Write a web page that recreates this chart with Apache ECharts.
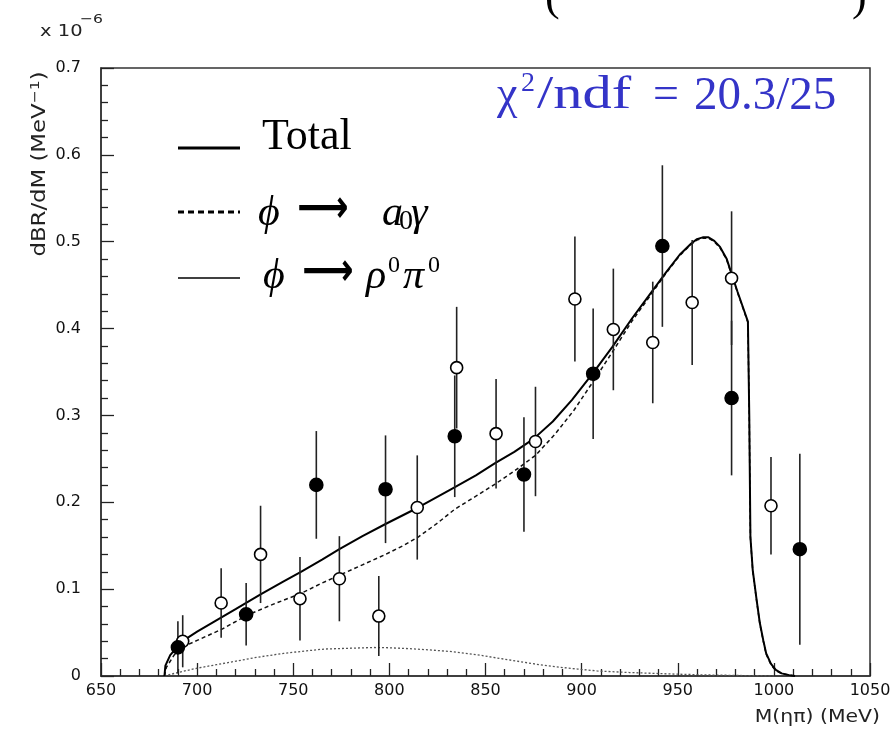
<!DOCTYPE html>
<html>
<head>
<meta charset="utf-8">
<script src="https://cdn.jsdelivr.net/npm/echarts@6/dist/echarts.min.js"></script>
<style>
  html, body { margin: 0; padding: 0; background: #fff; }
  #chart { width: 895px; height: 734px; }
</style>
</head>
<body>
<div id="chart"></div>
<script>
// Axis ticks
const xTicks = [650, 700, 750, 800, 850, 900, 950, 1000, 1050];
const yTicks = [0, 0.1, 0.2, 0.3, 0.4, 0.5, 0.6, 0.7];

// Data points: [M(eta pi) MeV, dBR/dM (1e-6/MeV), error]
const filledPoints = [
  [690, 0.033, 0.030],
  [725.5, 0.071, 0.036],
  [762, 0.220, 0.062],
  [798, 0.215, 0.062],
  [834, 0.276, 0.070],
  [870, 0.232, 0.066],
  [906, 0.348, 0.075],
  [942, 0.495, 0.093],
  [978, 0.320, 0.089],
  [1013.5, 0.146, 0.110]
];
const openPoints = [
  [692.5, 0.040, 0.030],
  [712.5, 0.084, 0.040],
  [733, 0.140, 0.056],
  [753.5, 0.089, 0.048],
  [774, 0.112, 0.049],
  [794.5, 0.069, 0.046],
  [814.5, 0.194, 0.060],
  [835, 0.355, 0.070],
  [855.5, 0.279, 0.063],
  [876, 0.270, 0.063],
  [896.5, 0.434, 0.072],
  [916.5, 0.399, 0.070],
  [937, 0.384, 0.070],
  [957.5, 0.430, 0.072],
  [978, 0.458, 0.077],
  [998.5, 0.196, 0.056]
];

// Fit curves
const totalMass = [683, 683.5, 686, 689.5, 693, 700, 710, 720, 733, 745, 754, 765, 774, 786, 798, 815, 832, 845, 855, 865, 875, 885, 895, 906, 916, 926, 937, 944, 951, 957, 960, 963, 966, 969, 972, 975.5, 978, 981, 984, 986.5, 987.2, 987.8, 989, 991, 992.7, 994.5, 996, 998.5, 1001, 1004, 1008, 1011];
const totalVal  = [0, 0.012, 0.024, 0.033, 0.041, 0.051, 0.064, 0.077, 0.094, 0.109, 0.120, 0.134, 0.146, 0.161, 0.175, 0.194, 0.215, 0.231, 0.245, 0.258, 0.273, 0.293, 0.318, 0.349, 0.379, 0.411, 0.444, 0.465, 0.485, 0.498, 0.503, 0.505, 0.505, 0.501, 0.494, 0.480, 0.463, 0.443, 0.424, 0.408, 0.300, 0.160, 0.122, 0.088, 0.061, 0.041, 0.026, 0.014, 0.007, 0.003, 0.001, 0];

const a0Mass = [683, 684, 688, 693, 700, 713, 726, 740, 754, 764, 774, 786, 798, 808, 815, 825, 834, 845, 855, 865, 876, 886, 896, 906, 916, 926, 937, 944, 951, 957, 960, 963, 966, 969, 972, 975.5, 978, 981, 984, 986.5, 987.2, 987.8, 989, 991, 992.7, 994.5, 996, 998.5, 1001, 1004, 1008, 1011];
const a0Val  = [0, 0.010, 0.024, 0.034, 0.041, 0.054, 0.070, 0.083, 0.095, 0.106, 0.116, 0.128, 0.140, 0.151, 0.160, 0.176, 0.192, 0.207, 0.221, 0.236, 0.254, 0.278, 0.306, 0.339, 0.373, 0.408, 0.442, 0.464, 0.484, 0.497, 0.502, 0.504, 0.504, 0.500, 0.493, 0.479, 0.462, 0.442, 0.423, 0.407, 0.299, 0.159, 0.121, 0.087, 0.060, 0.040, 0.025, 0.013, 0.006, 0.003, 0.001, 0];

const rhoMass = [683, 690, 700, 710, 720, 731, 745, 757, 766, 780, 792, 800, 810, 821, 833, 847, 858, 868, 878, 889, 898, 908, 925, 947, 965, 985, 1000];
const rhoVal  = [0, 0.004, 0.009, 0.013, 0.017, 0.0215, 0.026, 0.029, 0.031, 0.032, 0.0328, 0.0325, 0.0315, 0.0300, 0.028, 0.024, 0.020, 0.0165, 0.013, 0.010, 0.008, 0.0058, 0.004, 0.0023, 0.0012, 0.0005, 0.0002];

const pair = (xs, ys) => xs.map((x, i) => [x, ys[i]]);

const serif = '"Liberation Serif", "DejaVu Serif", serif';
const sans = '"DejaVu Sans", "Liberation Sans", sans-serif';
const chiBlue = '#3434c8';

function errorSeries(name, points, filled) {
  return {
    name: name,
    type: 'custom',
    z: 5,
    data: points,
    renderItem: function (params, api) {
      const x = api.value(0), y = api.value(1), e = api.value(2);
      const top = api.coord([x, y + e]);
      const bot = api.coord([x, Math.max(0, y - e)]);
      const c = api.coord([x, y]);
      return {
        type: 'group',
        children: [
          { type: 'line', shape: { x1: top[0], y1: top[1], x2: bot[0], y2: bot[1] },
            style: { stroke: '#222', lineWidth: 1.6 } },
          { type: 'circle', shape: { cx: c[0], cy: c[1], r: filled ? 6.5 : 6 },
            style: { fill: filled ? '#000' : '#fff', stroke: '#000', lineWidth: 1.6 }, z2: 2 }
        ]
      };
    }
  };
}

function txt(left, top, text, font, extra, color) {
  return Object.assign({ type: 'text', x: left, y: top, z: 10,
    style: { text: text, font: font, fill: color || '#000', verticalAlign: 'top' } }, extra || {});
}

const chart = echarts.init(document.getElementById('chart'), null, { renderer: 'canvas' });

chart.setOption({
  animation: false,
  backgroundColor: '#fff',
  grid: { left: 101, right: 25, top: 68, bottom: 58, show: true, borderColor: '#333', borderWidth: 1.5, backgroundColor: 'transparent' },
  xAxis: {
    type: 'value', min: xTicks[0], max: xTicks[xTicks.length - 1], interval: 50,
    axisLine: { show: true, onZero: false, lineStyle: { color: '#333', width: 1.5 } },
    axisTick: { show: true, inside: true, length: 13, lineStyle: { color: '#222', width: 1.3 } },
    minorTick: { show: true, splitNumber: 5, length: 7, lineStyle: { color: '#222', width: 1.3 } },
    splitLine: { show: false },
    axisLabel: { margin: 7, color: '#111', fontFamily: sans, fontSize: 16, formatter: v => String(v) }
  },
  yAxis: {
    type: 'value', min: yTicks[0], max: yTicks[yTicks.length - 1], interval: 0.1,
    axisLine: { show: true, lineStyle: { color: '#333', width: 1.5 } },
    axisTick: { show: true, inside: true, length: 13, lineStyle: { color: '#222', width: 1.3 } },
    minorTick: { show: true, splitNumber: 5, length: 7, lineStyle: { color: '#222', width: 1.3 } },
    splitLine: { show: false },
    axisLabel: { margin: 20, color: '#111', fontFamily: sans, fontSize: 16,
      formatter: v => (Math.abs(v) < 1e-9 ? '0' : v.toFixed(1)) }
  },
  series: [
    { name: 'rho', type: 'line', data: pair(rhoMass, rhoVal), showSymbol: false, smooth: false,
      lineStyle: { color: '#555', width: 1.3, type: [2, 2] }, z: 2 },
    { name: 'a0', type: 'line', data: pair(a0Mass, a0Val), showSymbol: false, smooth: false,
      lineStyle: { color: '#111', width: 1.5, type: [4, 3] }, z: 3 },
    { name: 'Total', type: 'line', data: pair(totalMass, totalVal), showSymbol: false, smooth: false,
      lineStyle: { color: '#000', width: 2 }, z: 4 },
    errorSeries('open', openPoints, false),
    errorSeries('filled', filledPoints, true)
  ],
  graphic: [
    // exponent above the value axis
    txt(40, 25, 'x 10', '15px ' + sans, { scaleX: 1.3 }, '#222'),
    txt(80, 13, '−6', '13px ' + sans, { scaleX: 1.2 }, '#222'),
    // vertical axis title
    { type: 'text', x: 40, y: 164, rotation: Math.PI / 2, scaleX: 1.2,
      style: { text: '{m|dBR/dM (MeV}{s|−1}{m|)}', align: 'center', verticalAlign: 'middle',
        rich: { m: { font: '19px ' + sans, fill: '#222' }, s: { font: '13px ' + sans, fill: '#222', verticalAlign: 'top', padding: [0, 0, 9, 0] } } } },
    // horizontal axis title
    { type: 'text', x: 880, y: 718, scaleX: 1.2,
      style: { text: 'M(ηπ) (MeV)', font: '17px ' + sans, fill: '#222', align: 'right', verticalAlign: 'middle' } },
    // chi-square label
    { type: 'rect', shape: { x: 494, y: 72, width: 350, height: 44 }, style: { fill: '#fff' }, z: 9 },
    txt(497, 73, 'χ', '46px ' + serif, null, chiBlue),
    txt(521, 70, '2', '28px ' + serif, null, chiBlue),
    txt(537, 73, '/ndf', '46px ' + serif, { scaleX: 1.27 }, chiBlue),
    txt(653, 73, '=', '46px ' + serif, null, chiBlue),
    txt(694, 73, '20.3/25', '47px ' + serif, null, chiBlue),
    // legend
    { type: 'line', shape: { x1: 178, y1: 148, x2: 240, y2: 148 }, style: { stroke: '#000', lineWidth: 3 } },
    txt(262, 115, 'Total', '44px ' + serif),
    { type: 'line', shape: { x1: 178, y1: 212, x2: 240, y2: 212 }, style: { stroke: '#000', lineWidth: 3, lineDash: [6, 4] } },
    txt(258, 193, 'ϕ', 'italic 42px ' + serif),
    txt(297, 187, '⟶', 'bold 46px ' + sans, { scaleX: 0.78 }),
    txt(382, 193, 'a', 'italic 42px ' + serif),
    txt(399, 208, '0', '28px ' + serif),
    txt(411, 193, 'γ', 'italic 42px ' + serif),
    { type: 'line', shape: { x1: 178, y1: 278, x2: 240, y2: 278 }, style: { stroke: '#000', lineWidth: 1.5 } },
    txt(263, 256, 'ϕ', 'italic 42px ' + serif),
    txt(302, 250, '⟶', 'bold 46px ' + sans, { scaleX: 0.78 }),
    txt(366, 256, 'ρ', 'italic 42px ' + serif),
    txt(388, 254, '0', '24px ' + serif),
    txt(403, 256, 'π', 'italic 42px ' + serif),
    txt(428, 254, '0', '24px ' + serif),
    // edges of the heading that runs off the top
    txt(545, -24, '(', '44px ' + serif),
    txt(852, -24, ')', '44px ' + serif)
  ]
});
</script>
</body>
</html>
